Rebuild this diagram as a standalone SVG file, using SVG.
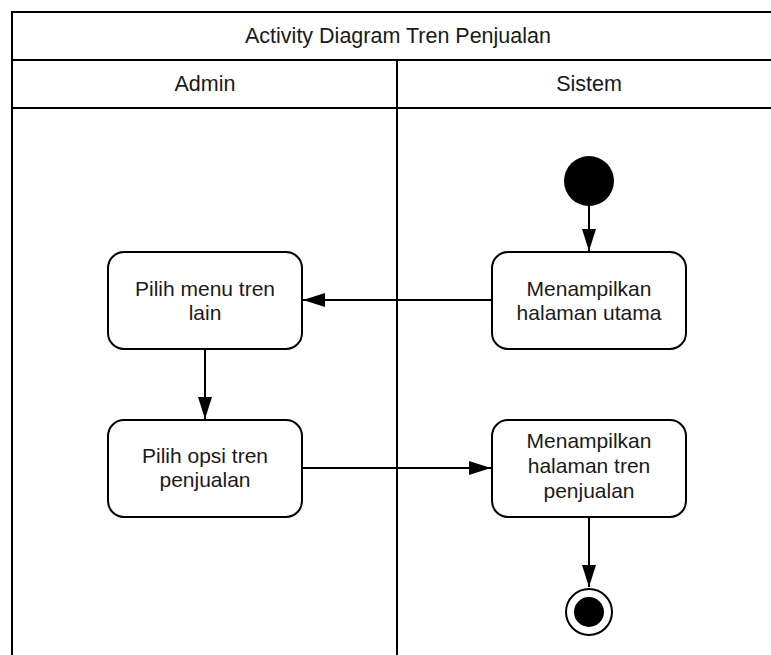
<svg xmlns="http://www.w3.org/2000/svg" width="771" height="655" viewBox="0 0 771 655">
<style>
.frame{fill:none;stroke:#000;stroke-width:2}
.node{fill:#fff;stroke:#000;stroke-width:2}
.conn{fill:none;stroke:#000;stroke-width:2}
text{font-family:"Liberation Sans",Arial,sans-serif;font-size:21px;fill:#1a1a1a;text-anchor:middle}
.hd{font-size:21.5px}
</style>
<defs>
<marker id="arr" markerWidth="22" markerHeight="14" refX="22" refY="7" orient="auto" markerUnits="userSpaceOnUse">
<path d="M0,0 L22,7 L0,14 Z" fill="#000"/>
</marker>
</defs>
<rect width="771" height="655" fill="#fff"/>
<g id="lanes">
<path class="frame" d="M772,12 H12 V656 M12,60 H772 M12,108 H772 M397,60 V656"/>
<text class="hd" x="398" y="43">Activity Diagram Tren Penjualan</text>
<text class="hd" x="205" y="91">Admin</text>
<text class="hd" x="589" y="91">Sistem</text>
</g>
<g id="connectors">
<path class="conn" d="M589,205 V251" marker-end="url(#arr)"/>
<path class="conn" d="M492,300 H303" marker-end="url(#arr)"/>
<path class="conn" d="M205,349 V419" marker-end="url(#arr)"/>
<path class="conn" d="M302,468 H491" marker-end="url(#arr)"/>
<path class="conn" d="M589,517 V587" marker-end="url(#arr)"/>
</g>
<g id="start"><circle cx="589" cy="181" r="25" fill="#000"/></g>
<g id="n1">
<rect class="node" x="108" y="252" width="194" height="97" rx="16"/>
<text x="205" y="296">Pilih menu tren</text>
<text x="205" y="320">lain</text>
</g>
<g id="n2">
<rect class="node" x="492" y="252" width="194" height="97" rx="16"/>
<text x="589" y="296">Menampilkan</text>
<text x="589" y="320">halaman utama</text>
</g>
<g id="n3">
<rect class="node" x="108" y="420" width="194" height="97" rx="16"/>
<text x="205" y="463">Pilih opsi tren</text>
<text x="205" y="487">penjualan</text>
</g>
<g id="n4">
<rect class="node" x="492" y="420" width="194" height="97" rx="16"/>
<text x="589" y="448">Menampilkan</text>
<text x="589" y="473">halaman tren</text>
<text x="589" y="498">penjualan</text>
</g>
<g id="end">
<circle cx="589" cy="612" r="23" fill="#fff" stroke="#000" stroke-width="2"/>
<circle cx="589" cy="612" r="15" fill="#000"/>
</g>
</svg>
